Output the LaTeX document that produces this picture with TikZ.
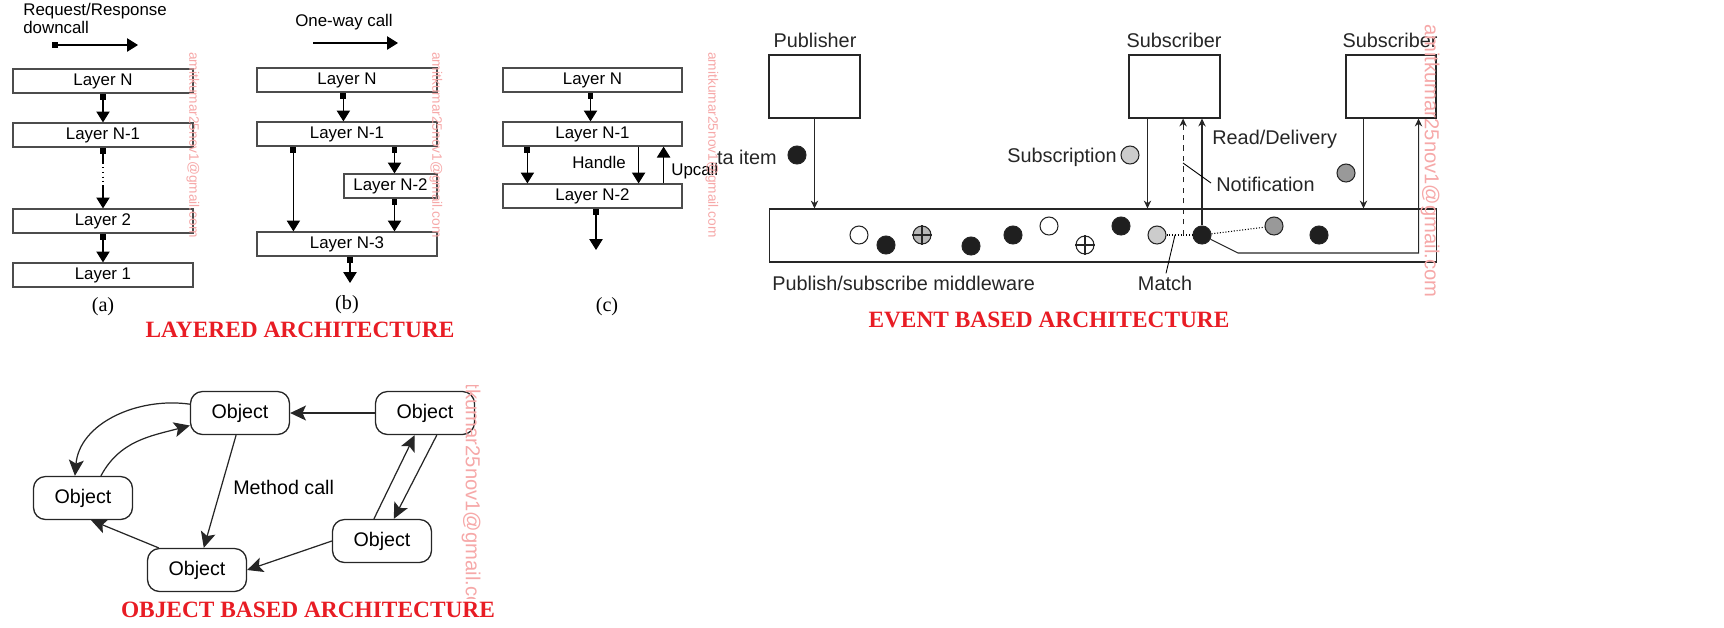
\documentclass[tikz,border=0pt]{standalone}
\usepackage{fontspec}
\setmainfont{Liberation Sans}
\newfontfamily\titlefont{Liberation Serif}
\usetikzlibrary{arrows.meta, positioning, calc}

\definecolor{titlered}{RGB}{232,28,36}
\definecolor{wmpink}{RGB}{246,168,168}

\begin{document}
\begin{tikzpicture}[
    x=0.02cm, y=-0.02cm,
    layer/.style={rectangle, draw=black!70, line width=0.7pt, minimum width=3.6cm, minimum height=0.48cm, inner sep=0pt, font=\fontsize{9.6}{11}\selectfont},
    laytxt/.style={font=\fontsize{9.6}{8.6}\selectfont, inner sep=0pt},
    down/.style={line width=0.6pt, -{Triangle[length=6.2pt,width=7.6pt]}},
    sqdown/.style={line width=0.6pt, {Square[length=3.4pt,width=3.4pt]}-{Triangle[length=6.2pt,width=7.6pt]}},
    caption/.style={font=\titlefont\fontsize{11.5}{13}\selectfont, inner sep=0pt},
    heading/.style={font=\titlefont\bfseries\fontsize{13.3}{15}\selectfont, text=titlered, inner sep=0pt},
    evbox/.style={rectangle, draw=black!85, line width=0.6pt, minimum width=1.82cm, minimum height=1.26cm, inner sep=0pt},
    evtxt/.style={font=\fontsize{11.3}{13}\selectfont, text=black!85, inner sep=0pt},
    evarrow/.style={line width=0.6pt, draw=black!85, -{Stealth[length=4.5pt,width=4.2pt]}},
    dot/.style={circle, draw=black!85, line width=0.6pt, minimum size=0.36cm, inner sep=0pt},
    obj/.style={rectangle, rounded corners=0.24cm, draw=black!85, line width=0.75pt, minimum width=1.98cm, minimum height=0.86cm, inner sep=0pt, font=\fontsize{11.2}{13}\selectfont},
    call/.style={line width=0.7pt, draw=black!85, -{Stealth[length=9pt,width=8.5pt,inset=2pt]}},
    wmark/.style={rotate=-90, text=wmpink, inner sep=0pt}
]
\useasboundingbox (0,0) rectangle (1724,627);

% Layered (a): request/response downcall
\node[laytxt, align=left, anchor=north west] (rrtxt) at (23,3) {Request/Response\\downcall};
\coordinate (rra) at (52,45);
\coordinate (rrb) at (138,45);
\draw[sqdown] (rra) -- (rrb);

\node[layer] (LNa) at (103,81) {Layer N};
\node[layer] (LN1a) at (103,135) {Layer N-1};
\node[layer] (L2a) at (103,221) {Layer 2};
\node[layer] (L1a) at (103,275) {Layer 1};
\draw[sqdown] (LNa) -- (LN1a);
\draw[sqdown] (LN1a) -- (L2a);
\draw[white, line width=1.6pt] ($(LN1a.south)!0.25!(L2a.north)$) -- ($(LN1a.south)!0.62!(L2a.north)$);
\draw[dotted, line width=0.6pt] ($(LN1a.south)!0.25!(L2a.north)$) -- ($(LN1a.south)!0.62!(L2a.north)$);
\draw[sqdown] (L2a) -- (L1a);
\node[caption] (capa) at (103,307) {(a)};

% Layered (b): one-way call
\node[laytxt] (owtxt) at (344,22) {One-way call};
\coordinate (owa) at (313,43);
\coordinate (owb) at (398,43);
\draw[down] (owa) -- (owb);

\node[layer] (LNb) at (347,80) {Layer N};
\node[layer] (LN1b) at (347,134) {Layer N-1};
\node[layer, minimum width=1.86cm] (LN2b) at (390.5,186) {Layer N-2};
\node[layer] (LN3b) at (347,244) {Layer N-3};
\draw[sqdown] (LNb.south -| LN2b.west) -- (LN1b.north -| LN2b.west);
\draw[sqdown] ($(LN1b.south west)+(37,0)$) coordinate (bl) -- (bl |- LN3b.north);
\draw[sqdown] ($(LN1b.south -| LN2b)+(4,0)$) coordinate (br) -- (br |- LN2b.north);
\draw[sqdown] ($(LN2b.south)+(4,0)$) coordinate (br2) -- (br2 |- LN3b.north);
\coordinate (outb) at (350,283);
\draw[sqdown] (LN3b.south -| outb) -- (outb);
\node[caption] (capb) at (347,305) {(b)};

% Layered (c): upcall
\node[layer, minimum width=3.58cm] (LNc) at (592.5,80) {Layer N};
\node[layer, minimum width=3.58cm] (LN1c) at (592.5,134) {Layer N-1};
\node[layer, minimum width=3.58cm] (LN2c) at (592.5,196) {Layer N-2};
\draw[sqdown] ($(LNc.south)+(-2,0)$) coordinate (ca) -- (ca |- LN1c.north);
\draw[sqdown] ($(LN1c.south west)+(25,0)$) coordinate (cb) -- (cb |- LN2c.north);
\draw[down] ($(LN1c.south east)+(-44,0)$) coordinate (cc) -- (cc |- LN2c.north);
\draw[down] ($(LN2c.north east)+(-19,0)$) coordinate (cd) -- (cd |- LN1c.south);
\coordinate (outc) at (596,250);
\draw[sqdown] (LN2c.south -| outc) -- (outc);
\node[laytxt] (handle) at (599,162) {Handle};
\node[laytxt, anchor=west] (upcall) at (671,171) {Upcall};
\node[caption] (capc) at (607,307) {(c)};

\node[heading] (layhead) at (300,330) {LAYERED ARCHITECTURE};

% Event based: publisher, subscribers, middleware
\node[evbox] (pub) at (814.5,86.5) {};
\node[evbox] (sub1) at (1174.5,86.5) {};
\node[evbox, minimum width=1.8cm] (sub2) at (1391,86.5) {};
\node[evtxt] (publbl) at (815,40) {Publisher};
\node[evtxt] (sub1lbl) at (1174,40) {Subscriber};
\node[evtxt] (sub2lbl) at (1390,40) {Subscriber};
\node[rectangle, draw=black!85, line width=0.6pt, minimum width=13.36cm, minimum height=1.06cm, inner sep=0pt] (mw) at (1103,235.5) {};

\node[dot, fill=black!88] (pubdot) at (797,155) {};
\node[evtxt, anchor=east] (item) at (777,157) {ta item};
\node[dot, fill=black!20] (subdot) at (1130,155) {};
\node[evtxt, anchor=east] (subs) at (1117,157) {Subscription};
\node[dot, fill=black!40] (sub2dot) at (1346,173) {};

% Events inside the middleware
\foreach \nm/\px/\py/\shade in {d1/859/235/white, d2/886/245/black!88, d3/922/235/black!28, d4/971/246/black!88,
    d5/1013/235/black!88, d6/1049/226/white, d7/1085/245/white, d8/1121/226/black!88,
    d9/1157/235/black!20, d10/1202/235/black!88, d11/1274/226/black!40, d12/1319/235/black!88}
    \node[dot, fill=\shade] (\nm) at (\px,\py) {};
\foreach \nm in {d3,d7}
    \draw[line width=0.6pt, black!85] (\nm.north) -- (\nm.south) (\nm.west) -- (\nm.east);

\draw[evarrow] (pub.south) -- (pub.south |- mw.north);
\draw[evarrow] ($(sub1.south west)+(19,0)$) coordinate (s1) -- (s1 |- mw.north);
\draw[evarrow] ($(sub2.south west)+(18,0)$) coordinate (s2) -- (s2 |- mw.north);

% Match, notification and delivery
\coordinate (mp) at ($(d9)!0.58!(d10)$);
\draw[densely dotted, line width=0.6pt] (d9) -- (d10);
\draw[densely dotted, line width=0.6pt] (d10) -- (d11);
\draw[evarrow, dashed] (mp) -- (mp |- sub1.south);
\draw[evarrow] (d10) -- (d10 |- sub1.south);
\draw[evarrow] (d10) -- (1238,253) -| ($(sub2.south east)+(-18,0)$);

\node[evtxt, anchor=west] (deliv) at (1212,139) {Read/Delivery};
\node[evtxt, anchor=west] (notif) at (1216,184) {Notification};
\coordinate (nfoot) at (1183,163);
\draw[line width=0.5pt] (nfoot) -- ($(notif.west)+(-5,-1)$);
\node[evtxt] (match) at (1165,283) {Match};
\draw[line width=0.5pt] ($(match.north)+(1,-2)$) -- ($(d9)!0.4!(d10)$);
\node[evtxt, anchor=west] (mwlbl) at (772,283) {Publish/subscribe middleware};

\node[heading] (evhead) at (1049,320) {EVENT BASED ARCHITECTURE};

% Object based: method calls between objects
\node[obj] (oA) at (240,413) {Object};
\node[obj] (oB) at (425,413) {Object};
\node[obj] (oC) at (83,498) {Object};
\node[obj] (oD) at (197,570) {Object};
\node[obj] (oE) at (382,541) {Object};

\draw[call] (oB) -- (oA);
\draw[call] (oA.170) to[out=172, in=85] (oC.110);
\draw[call] (oC.51) to[out=62, in=195] (oA.194);
\draw[call] (oA.260) -- (oD.73);
\draw[call] (oD.150) -- (oC.-70);
\draw[call] (oE.west) -- (oD.east);
\draw[call] (oE.110) -- (oB.-115);
\draw[call] (oB.-62) -- (oE.62);
\node[font=\fontsize{11.2}{13}\selectfont, anchor=west, inner sep=0pt] (mcall) at (233,487) {Method call};

\node[heading] (objhead) at (308,610) {OBJECT BASED ARCHITECTURE};

% Watermarks
\node[wmark, font=\fontsize{7.8}{9}\selectfont] (wm1) at (193,145) {amitkumar25nov1@gmail.com};
\node[wmark, font=\fontsize{7.8}{9}\selectfont] (wm2) at (436,145) {amitkumar25nov1@gmail.com};
\node[wmark, font=\fontsize{7.8}{9}\selectfont] (wm3) at (712,145) {amitkumar25nov1@gmail.com};
\node[wmark, font=\fontsize{11.5}{13}\selectfont] (wm4) at (1430,161) {amitkumar25nov1@gmail.com};
\begin{scope}
    \clip (455,385) rectangle (490,598);
    \node[wmark, font=\fontsize{11.5}{13}\selectfont] (wm5) at (471,488) {amitkumar25nov1@gmail.com};
\end{scope}

\end{tikzpicture}
\end{document}
